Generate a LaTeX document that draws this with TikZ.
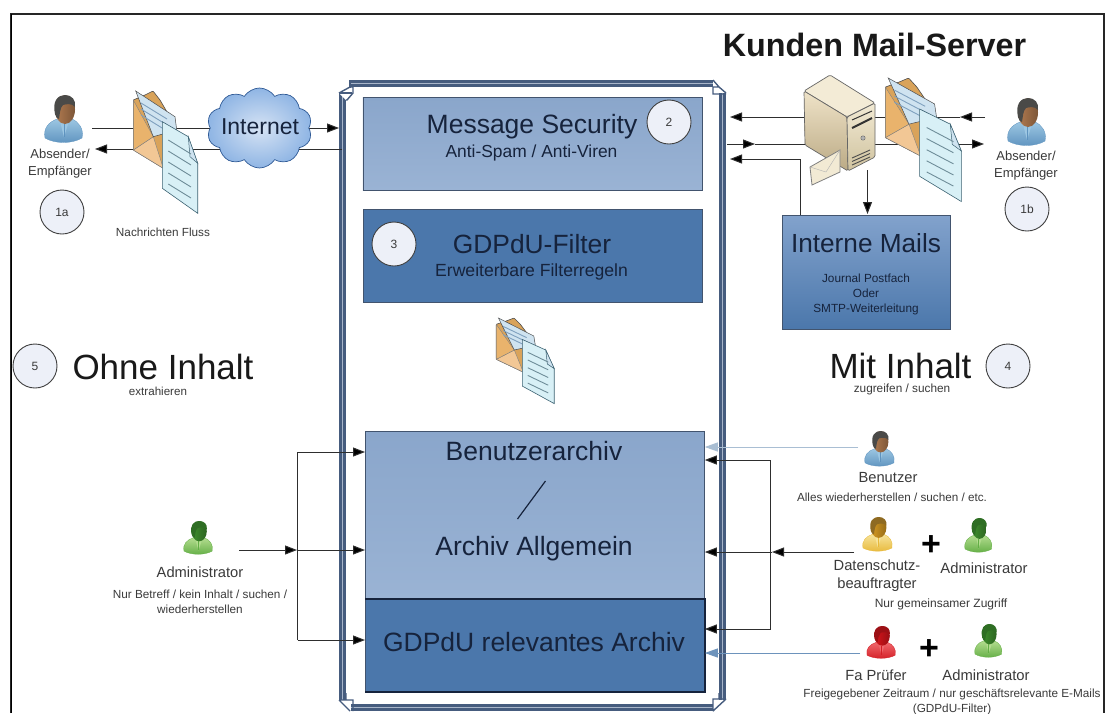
\documentclass[tikz,border=0pt]{standalone}
\usepackage{fontspec}
\setmainfont{Liberation Sans}
\usetikzlibrary{arrows.meta,shapes.symbols,calc}
\definecolor{inkdark}{HTML}{16233C}
\definecolor{inksmall}{HTML}{3A3A3A}
\definecolor{framec}{HTML}{465C7E}
\definecolor{framel}{HTML}{A9B6CA}
\definecolor{linec}{HTML}{2E2E2E}
\definecolor{boxlight}{HTML}{8AA6CB}
\definecolor{boxlightb}{HTML}{9AB3D4}
\definecolor{boxdark}{HTML}{4B77AB}
\definecolor{boxedge}{HTML}{42546E}
\definecolor{blueB}{HTML}{5E93BF}\definecolor{blueL}{HTML}{9CC6E2}\definecolor{skin}{HTML}{B27B50}\definecolor{hairD}{HTML}{4A4A48}
\definecolor{greenB}{HTML}{63AE45}\definecolor{greenL}{HTML}{B2DC8E}\definecolor{greenH}{HTML}{3F8F2E}\definecolor{greenD}{HTML}{2F6E24}
\definecolor{yelB}{HTML}{E8B93A}\definecolor{yelL}{HTML}{F6E39A}\definecolor{yelH}{HTML}{D69A22}\definecolor{yelD}{HTML}{8E6A22}
\definecolor{redB}{HTML}{D31F26}\definecolor{redL}{HTML}{F0676C}\definecolor{redH}{HTML}{D8151C}\definecolor{redD}{HTML}{9C1015}
\definecolor{numfill}{HTML}{EDF0F8}
\definecolor{envA}{HTML}{D9A35A}\definecolor{envB}{HTML}{F2C795}\definecolor{envC}{HTML}{E9B36C}
\definecolor{letterc}{HTML}{CFE3F0}\definecolor{letterl}{HTML}{7FA0BE}\definecolor{docc}{HTML}{D8F0F6}\definecolor{docedge}{HTML}{3C6272}\definecolor{docl}{HTML}{6F8D99}
\definecolor{cloudin}{HTML}{D6E3F4}\definecolor{cloudout}{HTML}{8FB5E4}\definecolor{cloude}{HTML}{2F5A96}
\definecolor{intT}{HTML}{82A2CC}\definecolor{intB}{HTML}{4B77AB}
\definecolor{srvT}{HTML}{F3EBD6}\definecolor{srvL}{HTML}{EFE3C8}\definecolor{srvLb}{HTML}{BBAA85}\definecolor{srvF}{HTML}{F2EAD4}\definecolor{srvFb}{HTML}{CFC29E}
\definecolor{arrlight}{HTML}{A9BED3}\definecolor{arrblue}{HTML}{6D93BC}
\tikzset{
  x=1pt,y=-1pt,
  fs/.style={font=\fontsize{#1}{30}\selectfont,inner sep=0pt,align=center},
  boxtxt/.style={fs=#1,text=inkdark},
  small/.style={fs=#1,text=inksmall},
  numc/.style={circle,draw=black!75,line width=0.9pt,fill=numfill,minimum size=44pt,inner sep=0pt,font=\fontsize{12}{14}\selectfont,text=inksmall},
  lightbox/.style={draw=boxedge,line width=0.8pt,top color=boxlight,bottom color=boxlightb,minimum width=339pt,inner sep=0pt,anchor=north west},
  darkbox/.style={draw=boxedge,line width=0.8pt,fill=boxdark,minimum width=339pt,inner sep=0pt,anchor=north west},
  conn/.style={draw=linec,line width=1pt},
  tip/.style={conn,-{Triangle[length=12pt,width=9pt,fill=black]}},
  lighttip/.style={draw=#1,line width=1pt,-{Triangle[length=13pt,width=9pt,fill=#1]}},
  pics/person/.style n args={4}{code={
    % body, body light, head, hair
    \path[top color=#2,bottom color=#1,draw=#1,line width=0.3pt]
      (0,43) .. controls (-2,33) and (4,27) .. (12,24) -- (27,24) .. controls (34,27) and (39,34) .. (37,43)
      .. controls (27,49) and (10,49) .. (0,43) -- cycle;
    \fill[#2] (15,26) -- (19,42) -- (24,26) -- cycle;
    \fill[#1] (18.6,29) -- (19.8,29) -- (19.8,42) -- (18.6,42) -- cycle;
    \path[left color=#3,right color=#3!70!black] (20,14.5) ellipse [x radius=10,y radius=14.5];
    \fill[#4] (10,19) .. controls (7,6) and (13,0) .. (20,0) .. controls (27,0) and (31,5) .. (30,12)
      .. controls (27,8) and (21,9) .. (18,10) .. controls (15,13) and (15,18) .. (14,24)
      .. controls (12,24) and (11,22) .. (10,19) -- cycle;
  }},
  pics/mailflow/.style={code={
    \draw[draw=black!70,fill=envA,line width=0.6pt,rounded corners=0.8pt]
      (0.3,9) -- (12,4) -- (20,0) -- (27,9) -- (34,21) -- (38,60) -- (30.3,77.3) -- (0.3,59) -- cycle;
    \draw[draw=black!50,fill=envB,line width=0.4pt] (0.3,59) -- (20.3,45.7) -- (30.3,77.3) -- cycle;
    \draw[draw=black!50,fill=envC,line width=0.4pt] (0.3,9) -- (20.3,45.7) -- (0.3,59) -- cycle;
    \draw[draw=black!70,fill=letterc,line width=0.5pt]
      (2.7,0) -- (42,25.7) -- (43.7,39) -- (20.3,45.7) -- cycle;
    \foreach \d in {0,6,12}{\draw[letterl,line width=0.9pt] (8,12+\d) -- (34,28+\d);}
    \draw[draw=docedge,fill=docc,line width=0.6pt]
      (29.3,30.7) -- (55.3,45.7) -- (64.7,72.3) -- (64.7,122.3) -- (29.3,97.3) -- cycle;
    \draw[draw=docedge,fill=letterc,line width=0.5pt] (55.3,45.7) -- (57,65.7) -- (64.7,72.3) -- cycle;
    \foreach \d in {0,11,22,33,44}{\draw[docl,line width=0.9pt] (35.3,49+\d) -- (58,63+\d);}
  }},
}
\begin{document}
\begin{tikzpicture}
\useasboundingbox (0,0) rectangle (1105,713);
\fill[white] (0,0) rectangle (1105,713);
% outer border
\draw[black!85,line width=2pt] (10.5,713) -- (10.5,13.5) -- (1103.5,13.5) -- (1103.5,713);
\draw[black,line width=1pt] (11,13.5) -- (11,713);

% central double frame
\foreach \xa in {339,719}{
  \fill[framec] (\xa,93) rectangle +(7,607);
  \fill[framel] (\xa+2.8,93) rectangle +(1.4,607);
}
\fill[framec] (351,80) rectangle (713,87);
\fill[framel] (351,82.8) rectangle (713,84.2);
\fill[framec] (351,704) rectangle (713,711);
\fill[framel] (351,706.8) rectangle (713,708.2);
\draw[framec,line width=1.4pt,fill=white] (339,93) -- (350,87) -- (353,87) -- (353,93) -- (347,100) -- (346,100);
\draw[framec,line width=1.4pt] (350,80) -- (350,88) (339,93) -- (352,93);
\draw[framec,line width=1.4pt] (713,80) -- (719,87) -- (726,93) (713,87) -- (713,94) -- (726,94) (713,87) -- (719,87);
\draw[framec,line width=1.4pt] (339,700) -- (353,700) -- (353,711) (339,700) -- (350,711) (346,700) -- (346,693);
\draw[framec,line width=1.4pt] (726,699) -- (713,699) -- (713,711) (726,699) -- (713,711) (719,699) -- (719,693);

% central boxes
\node[lightbox,minimum height=93pt] (msg) at (362.5,97) {};
\node[darkbox,minimum height=93pt] (gdpf) at (362.5,209) {};
\node[lightbox,minimum height=167pt] (arch) at (365,431) {};
\node[darkbox,minimum height=93pt] (garch) at (365,598) {};
\draw[inkdark,line width=1.5pt] (arch.south west) -- (arch.south east);
\draw[inkdark,line width=1.4pt] (garch.north east) -- (garch.south east) -- (garch.south west);

\node[boxtxt=26.5] (msgt) at (532,127) {Message Security};
\node[boxtxt=17.4] (msgs) at (531.5,153) {Anti-Spam / Anti-Viren};
\node[numc] (n2) at (669,122) {2};
\node[boxtxt=26.4] (gdpt) at (532,244) {GDPdU-Filter};
\node[boxtxt=17.6] (gdps) at (531.5,272) {Erweiterbare Filterregeln};
\node[numc,fill=numfill] (n3) at (394,244) {3};
\node[boxtxt=26.5] (benu) at (534,451) {Benutzerarchiv};
\coordinate (sla) at (517.5,519);
\coordinate (slb) at (545.5,481);
\draw[inkdark,line width=1.2pt] (sla) -- (slb);
\node[boxtxt=26.5] (allg) at (534,549) {Archiv Allgemein};
\node[boxtxt=26.5] (grel) at (534,642) {GDPdU relevantes Archiv};

% interne mails
\node[draw=boxedge,line width=0.8pt,top color=intT,bottom color=intB,minimum width=168pt,minimum height=114pt,inner sep=0pt,anchor=north west] (int) at (782,215) {};
\node[boxtxt=26.2] (intt) at (866,243) {Interne Mails};
\node[font=\fontsize{11.8}{15}\selectfont,text=inkdark,align=center,inner sep=0pt] (ints) at (866,294) {Journal Postfach\\Oder\\SMTP-Weiterleitung};

% titles
\node[font=\fontsize{32.3}{36}\selectfont\bfseries,text=black!90,inner sep=0pt] (title) at (874.5,45) {Kunden Mail-Server};
\node[fs=35,text=black!90] (ohne) at (163,367) {Ohne Inhalt};
\node[small=11.6] (extr) at (158,391) {extrahieren};
\node[numc] (n5) at (35,366) {5};
\node[fs=35,text=black!90] (mit) at (900.5,365.5) {Mit Inhalt};
\node[small=11.8] (zugr) at (902,389.5) {zugreifen / suchen};
\node[numc] (n4) at (1008,366) {4};

% connector ends
\coordinate (l1a) at (92,128);
\coordinate (l1b) at (339,128);
\coordinate (l2a) at (342,149);
\coordinate (l2b) at (95,149);
\coordinate (r1a) at (985,117);
\coordinate (r1b) at (960,117);
\coordinate (r1c) at (875,117);
\coordinate (r1d) at (805,117);
\coordinate (r1e) at (730,117);
\coordinate (r2a) at (727,144);
\coordinate (r2b) at (755,144);
\coordinate (r2c) at (805,144);
\coordinate (r2d) at (875,144);
\coordinate (r2e) at (984,144);
\coordinate (r3a) at (800,215);
\coordinate (r3c) at (800,159);
\coordinate (r3b) at (730,159);
\coordinate (sva) at (867.5,170);
\coordinate (svb) at (867.5,214);

\draw[tip] (l1a) -- (l1b);
\draw[tip] (l2a) -- (l2b);
\draw[tip] (r1a) -- (r1b);
\draw[conn] (r1b) -- (r1c);
\draw[tip] (r1d) -- (r1e);
\draw[tip] (r2a) -- (r2b);
\draw[conn] (r2b) -- (r2c);
\draw[tip] (r2d) -- (r2e);
\draw[tip] (r3a) -- (r3c) -- (r3b);
\draw[tip] (sva) -- (svb);

% left admin arrows
\coordinate (ad0) at (239,550);
\coordinate (adj) at (297,550);
\coordinate (adt) at (297.5,452);
\coordinate (adb) at (297.5,640);
\draw[tip] (ad0) -- (adj);
\draw[tip] (adj) -- (arch.west |- adj);
\draw[tip] (adt) -- (arch.west |- adt);
\draw[tip] (adb) -- (garch.west |- adb);
\draw[conn] (adt) -- (adb);

% right access arrows
\coordinate (ben) at (858,447);
\coordinate (fa) at (860,653);
\draw[lighttip=arrlight] (ben) -- (arch.east |- ben);
\draw[lighttip=arrblue] (fa) -- (garch.east |- fa);
\coordinate (brt) at (770.5,460);
\coordinate (brb) at (770.5,629);
\coordinate (ds0) at (854,552);
\coordinate (dsj) at (772,552);
\draw[tip] (brt) -- (arch.east |- brt);
\draw[tip] (brb) -- (garch.east |- brb);
\draw[conn] (brt) -- (brb);
\draw[tip] (ds0) -- (dsj);
\draw[tip] (dsj) -- (arch.east |- dsj);

% cloud
\node[cloud,cloud puffs=10,cloud puff arc=115,aspect=1.35,draw=cloude,line width=0.7pt,inner color=cloudin,outer color=cloudout,minimum width=105pt,minimum height=80pt,inner sep=0pt] (cld) at (259.5,128) {};
\node[fs=23,text=inkdark] (cldt) at (260,127) {Internet};

% mail icons
\pic at (133,91) {mailflow};
\pic[xscale=1.18,yscale=1.01] at (885,78) {mailflow};
\pic[xscale=0.9,yscale=0.7] at (496,318) {mailflow};

% server
\draw[black!60,line width=0.7pt,fill=srvT,rounded corners=1.5pt] (804,91) -- (830,75) -- (875,103) -- (847,117) -- cycle;
\path[draw=black!60,line width=0.7pt,top color=srvL,bottom color=srvLb,rounded corners=1.5pt] (804,91) -- (847,117) -- (848,171) -- (805,145) -- cycle;
\path[draw=black!60,line width=0.7pt,top color=srvF,bottom color=srvFb,rounded corners=1.5pt] (847,117) -- (875,103) -- (875,157) -- (848,171) -- cycle;
\draw[black!80,line width=1pt] (852,120) -- (872,111);
\draw[black!80,line width=2pt] (852,128) -- (872,118);
\filldraw[draw=black!60,fill=gray!60] (863,138) circle (2.2);
\foreach \d in {0,3.5,7}{\draw[black!70,line width=0.9pt] (852,158+\d) -- (870,150+\d);}
\draw[black!50,fill=srvF,line width=0.8pt] (810,167) -- (840,150) -- (840,172) -- (812,185) -- cycle;
\draw[black!30,line width=0.4pt] (810,167) -- (826,172) -- (840,150);

% people
\pic at (45,95) {person={blueB}{blueL}{skin}{hairD}};
\pic[xscale=1,yscale=1] at (1008,98) {person={blueB}{blueL}{skin}{hairD}};
\pic[xscale=.76,yscale=.70] at (184,521) {person={greenB}{greenL}{greenH}{greenD}};
\pic[xscale=.78,yscale=.74] at (865,431) {person={blueB}{blueL}{skin}{hairD}};
\pic[xscale=.78,yscale=.72] at (863,517) {person={yelB}{yelL}{yelH}{yelD}};
\pic[xscale=.72,yscale=.72] at (965,518) {person={greenB}{greenL}{greenH}{greenD}};
\pic[xscale=.76,yscale=.68] at (867,626) {person={redB}{redL}{redH}{redD}};
\pic[xscale=.72,yscale=.70] at (975,624) {person={greenB}{greenL}{greenH}{greenD}};

% people labels
\node[small=13,font=\fontsize{13}{17}\selectfont] (ab1) at (60,163.5) {Absender/\\Empfänger};
\node[numc] (n1a) at (62,212) {1a};
\node[small=11.75] (nf) at (163,232) {Nachrichten Fluss};
\node[small=13,font=\fontsize{13}{17}\selectfont] (ab2) at (1026,166) {Absender/\\Empfänger};
\node[numc] (n1b) at (1027,209) {1b};
\node[small=14.7] (ad1) at (200,572) {Administrator};
\node[small=11.75,font=\fontsize{11.75}{15}\selectfont] (ad1s) at (200,601.5) {Nur Betreff / kein Inhalt / suchen /\\wiederherstellen};
\node[small=14.7] (bent) at (888,478) {Benutzer};
\node[small=11.7] (bens) at (892,497) {Alles wiederherstellen / suchen / etc.};
\node[small=14.7,font=\fontsize{14.7}{17.5}\selectfont] (dst) at (877,575.5) {Datenschutz-\\beauftragter};
\node[font=\fontsize{34}{36}\bfseries\selectfont,text=black,inner sep=0pt] (pl1) at (931,546) {+};
\node[small=14.8] (ad2) at (984,568) {Administrator};
\node[small=12] (gem) at (941,604) {Nur gemeinsamer Zugriff};
\node[small=14.7] (fap) at (876,675) {Fa Prüfer};
\node[font=\fontsize{34}{36}\bfseries\selectfont,text=black,inner sep=0pt] (pl2) at (929,650) {+};
\node[small=14.8] (ad3) at (986,675) {Administrator};
\node[small=11.75,font=\fontsize{11.75}{15}\selectfont] (frei) at (952,701.5) {Freigegebener Zeitraum / nur geschäftsrelevante E-Mails\\(GDPdU-Filter)};
\end{tikzpicture}
\end{document}
